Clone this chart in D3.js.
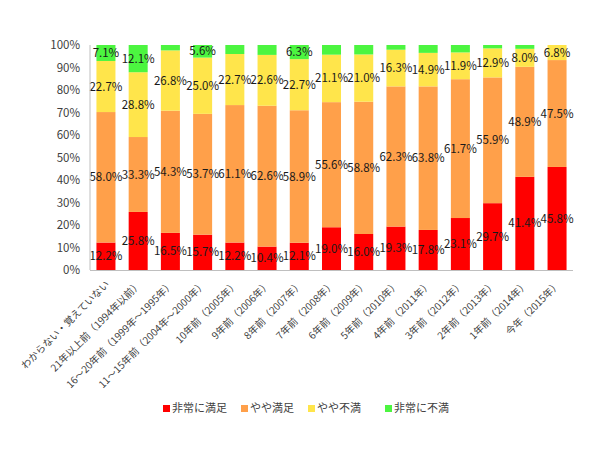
<!DOCTYPE html>
<meta charset="utf-8">
<script src="https://d3js.org/d3.v7.min.js"></script>
<style>
body { margin: 0; background: #fff; }
text { font-family: "Noto Sans CJK JP", "DejaVu Sans", sans-serif; }
</style>
<body>
</body>
<script>

var categories = ["わからない・覚えていない", "21年以上前（1994年以前）", "16～20年前（1999年～1995年）",
  "11～15年前（2004年～2000年）", "10年前（2005年）", "9年前（2006年）", "8年前（2007年）", "7年前（2008年）",
  "6年前（2009年）", "5年前（2010年）", "4年前（2011年）", "3年前（2012年）", "2年前（2013年）",
  "1年前（2014年）", "今年（2015年）"];
var seriesNames = ["非常に満足", "やや満足", "やや不満", "非常に不満"];
var verySatisfied = [12.2, 25.8, 16.5, 15.7, 12.2, 10.4, 12.1, 19.0, 16.0, 19.3, 17.8, 23.1, 29.7, 41.4, 45.8];
var somewhatSatisfied = [58.0, 33.3, 54.3, 53.7, 61.1, 62.6, 58.9, 55.6, 58.8, 62.3, 63.8, 61.7, 55.9, 48.9, 47.5];
var somewhatUnsatisfied = [22.7, 28.8, 26.8, 25.0, 22.7, 22.6, 22.7, 21.1, 21.0, 16.3, 14.9, 11.9, 12.9, 8.0, 6.8];
var veryUnsatisfied = [7.1, 12.1, 2.4, 5.6, 4.0, 4.4, 6.3, 4.3, 4.2, 2.1, 3.5, 3.3, 1.5, 1.7, 0];
// labels shown for the green segment only on some bars
var showGreenLabel = [true, true, false, true, false, false, true, false, false, false, false, false, false, false, false];
var yTicks = [0, 10, 20, 30, 40, 50, 60, 70, 80, 90, 100];

var colors = ["#ff0000", "#ffa04a", "#ffe54b", "#4cf540"];

var width = 598, height = 450;
var margin = {left: 90, right: 25, top: 45, bottom: 180};

var svg = d3.select("body").append("svg")
  .attr("width", width)
  .attr("height", height);

var x = d3.scaleBand()
  .domain(categories)
  .range([margin.left, width - margin.right])
  .paddingInner(0.41)
  .paddingOuter(0.2);

var y = d3.scaleLinear()
  .domain([0, 100])
  .range([height - margin.bottom, margin.top]);

var rows = categories.map(function(c, i) {
  return {cat: c, i: i, s0: verySatisfied[i], s1: somewhatSatisfied[i], s2: somewhatUnsatisfied[i], s3: veryUnsatisfied[i]};
});
var stack = d3.stack().keys(["s0", "s1", "s2", "s3"]);
var series = stack(rows);

var layers = svg.selectAll(".layer")
  .data(series).enter().append("g")
  .attr("class", "layer")
  .attr("fill", function(d, i) { return colors[i]; });

layers.selectAll("rect")
  .data(function(d) { return d; })
  .enter().append("rect")
  .attr("x", function(d) { return x(d.data.cat); })
  .attr("width", x.bandwidth())
  .attr("y", function(d) { return y(Math.min(d[1], 100)); })
  .attr("height", function(d) { return Math.max(0, y(d[0]) - y(Math.min(d[1], 100))); });

// axes
svg.append("line")
  .attr("x1", margin.left).attr("x2", margin.left)
  .attr("y1", y(100)).attr("y2", y(0))
  .attr("stroke", "#bfbfbf");
svg.append("line")
  .attr("x1", margin.left).attr("x2", width - margin.right)
  .attr("y1", y(0) + 0.5).attr("y2", y(0) + 0.5)
  .attr("stroke", "#bfbfbf");

svg.selectAll(".ytick")
  .data(yTicks).enter().append("text")
  .attr("class", "ytick")
  .attr("x", margin.left - 10)
  .attr("y", function(d) { return y(d); })
  .attr("dy", "0.35em")
  .attr("text-anchor", "end")
  .attr("font-size", 11.5)
  .attr("fill", "#404040")
  .text(function(d) { return d + "%"; });

// data labels
layers.selectAll(".lbl")
  .data(function(d, k) { return d.map(function(p) { p.k = k; return p; }); })
  .enter().filter(function(d) { return d.k < 3 || showGreenLabel[d.data.i]; })
  .append("text")
  .attr("class", "lbl")
  .attr("x", function(d) { return x(d.data.cat) + x.bandwidth() / 2; })
  .attr("y", function(d) { return y((d[0] + Math.min(d[1], 100)) / 2); })
  .attr("dy", "0.35em")
  .attr("text-anchor", "middle")
  .attr("font-size", 11.5)
  .attr("fill", "#1a1a1a")
  .text(function(d) { return (d[1] - d[0]).toFixed(1) + "%"; });

// x labels
svg.selectAll(".xlab")
  .data(categories).enter().append("text")
  .attr("class", "xlab")
  .attr("text-anchor", "end")
  .attr("font-size", 10)
  .attr("fill", "#404040")
  .attr("transform", function(d) {
    return "translate(" + (x(d) + x.bandwidth() / 2 + 4) + "," + (y(0) + 15) + ") rotate(-45)";
  })
  .text(function(d) { return d; });

// legend
var legendX = [163, 241, 308, 385];
var legend = svg.selectAll(".legend")
  .data(seriesNames).enter().append("g")
  .attr("class", "legend")
  .attr("transform", function(d, i) { return "translate(" + legendX[i] + ",405)"; });
legend.append("rect")
  .attr("width", 7).attr("height", 7).attr("y", 0)
  .attr("fill", function(d, i) { return colors[i]; });
legend.append("text")
  .attr("x", 9).attr("y", 3.5)
  .attr("dy", "0.35em")
  .attr("font-size", 11)
  .attr("fill", "#404040")
  .text(function(d) { return d; });

</script>
